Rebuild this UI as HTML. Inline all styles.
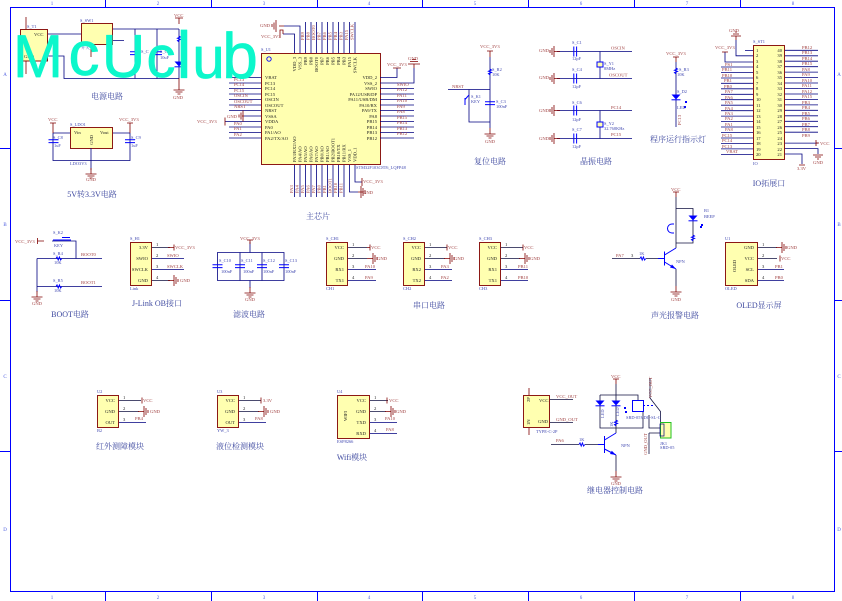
<!DOCTYPE html>
<html><head><meta charset="utf-8"><style>
html,body{margin:0;padding:0;background:#fff;width:842px;height:601px;overflow:hidden}
svg{display:block}
text{font-family:"Liberation Serif","Noto Serif CJK SC",serif}
.z{font-size:5px;fill:#5060e0;text-anchor:middle}
.t{font-size:8px;fill:#3f4aa0;text-anchor:middle}
.l{font-size:4.6px;fill:#a04040}
.p{font-size:4.6px;fill:#222}
.n{font-size:4.4px;fill:#4048b0}
.w{fill:none;stroke:#000080;stroke-width:.8}
.k{fill:none;stroke:#101040;stroke-width:.8}
.m{fill:none;stroke:#800000;stroke-width:.8}
.b{fill:none;stroke:#0000ff;stroke-width:1}
.x{fill:#ffffb0;stroke:#800000;stroke-width:.9}
.wm{font-family:"Liberation Sans",sans-serif;fill:#0cf7cb;stroke:#0cf7cb;stroke-width:.7;stroke-linejoin:round;text-anchor:middle}
</style></head><body>
<svg width="842" height="601" viewBox="0 0 842 601" xmlns="http://www.w3.org/2000/svg">
<defs>
<g id="gd"><path class="m" d="M0 0v6M-5.5 6h11M-3.5 8h7M-1.5 10h3"/></g>
<g id="gu"><path class="m" d="M0 0v-6M-5.5 -6h11M-3.5 -8h7M-1.5 -10h3"/></g>
<g id="gr"><path class="m" d="M0 0h6M6 -5.5v11M8 -3.5v7M10 -1.5v3"/></g>
<g id="gl"><path class="m" d="M0 0h-6M-6 -5.5v11M-8 -3.5v7M-10 -1.5v3"/></g>
<g id="cv"><path class="b" d="M-5 -1.2h10M-5 1.6h10"/></g>
<g id="ch"><path class="b" d="M-1.2 -5v10M1.6 -5v10"/></g>
<g id="rv"><path class="b" d="M0 -3l1.5 1-3 1.2 3 1.2-3 1.2 1.5 1.2"/></g>
<g id="rh"><path class="b" d="M-3 0l1-1.5 1.2 3 1.2-3 1.2 3 1.2-1.5"/></g>
<g id="led"><path d="M-4.5 -2.5h9l-4.5 5z" fill="#0000ff"/><path class="b" d="M-4.5 2.8h9"/></g>
</defs>

<!-- frame -->
<path class="b" d="M10.5 7.5H834.5V591.5H10.5ZM105.5 0v7M211.5 0v7M317.5 0v7M422.5 0v7M528.5 0v7M634.5 0v7M740.5 0v7M105.5 592v9M211.5 592v9M317.5 592v9M422.5 592v9M528.5 592v9M634.5 592v9M740.5 592v9M0 148.5h10M0 300.5h10M0 451.5h10M835 148.5h7M835 300.5h7M835 451.5h7"/>
<text class="z" x="52" y="5">1</text><text class="z" x="158" y="5">2</text><text class="z" x="264" y="5">3</text><text class="z" x="369" y="5">4</text><text class="z" x="475" y="5">5</text><text class="z" x="581" y="5">6</text><text class="z" x="687" y="5">7</text><text class="z" x="793" y="5">8</text>
<text class="z" x="52" y="599">1</text><text class="z" x="158" y="599">2</text><text class="z" x="264" y="599">3</text><text class="z" x="369" y="599">4</text><text class="z" x="475" y="599">5</text><text class="z" x="581" y="599">6</text><text class="z" x="687" y="599">7</text><text class="z" x="793" y="599">8</text>
<text class="z" x="5" y="76">A</text><text class="z" x="5" y="226">B</text><text class="z" x="5" y="378">C</text><text class="z" x="5" y="531">D</text>
<text class="z" x="839" y="76">A</text><text class="z" x="839" y="226">B</text><text class="z" x="839" y="378">C</text><text class="z" x="839" y="531">D</text>

<!-- power -->
<rect class="x" x="20.5" y="29.5" width="27" height="31.5"/>
<rect class="x" x="81.5" y="23.5" width="31" height="21"/>
<path class="w" d="M48 34H81M113 29H179M113 40.5H124M48 56H64V78.5H179M135 29V78.5M157 29V78.5M179 29V78.5"/>
<path class="m" d="M179 18v6M175 18h8M26 17v12M26 61v13M91 44v13M179 78v6"/>
<use href="#gd" x="179" y="84"/>
<use href="#cv" x="135" y="53"/><use href="#cv" x="157" y="53"/><use href="#rv" x="179" y="39"/><use href="#led" x="179" y="64"/>
<text class="l" x="174" y="17">VCC</text><text class="l" x="173" y="99">GND</text>
<text class="n" x="27" y="28">S_T1</text><text class="p" x="34" y="36">VCC</text><text class="p" x="24" y="58">GND</text><text class="n" x="80" y="22">S_SW1</text><text class="n" x="81" y="49">开关</text>
<text class="n" x="181" y="38">R1</text><text class="n" x="141" y="53">S_C</text><text class="n" x="160" y="53">S_C1</text><text class="n" x="160" y="59">10uF</text>
<text class="t" x="107" y="99">电源电路</text>

<!-- LDO -->
<rect class="x" x="70.5" y="127.5" width="42" height="21"/>
<path class="w" d="M53 133H70M113 133H130M53 133V160.5H130V133M91 148V170"/>
<path class="m" d="M53 123v10M50 123h6M130 123v10M127 123h6"/>
<use href="#gd" x="91" y="168"/>
<use href="#cv" x="53.5" y="141"/><use href="#cv" x="130" y="141"/>
<text class="l" x="48" y="121">VCC</text><text class="l" x="119" y="121">VCC_3V3</text><text class="l" x="86" y="181">GND</text>
<text class="n" x="70" y="126">S_LDO1</text><text class="p" x="74" y="134">Vin</text><text class="p" x="100" y="134">Vout</text><text class="p" transform="translate(93,145) rotate(-90)">GND</text>
<text class="n" x="70" y="165">LDO3V3</text><text class="n" x="53" y="139">S_C8</text><text class="n" x="131" y="139">S_C9</text><text class="n" x="54" y="147">1uF</text><text class="n" x="131" y="147">1uF</text>
<text class="t" x="92" y="197">5V转3.3V电路</text>

<!-- MCU -->
<rect class="x" x="261.5" y="53.5" width="119" height="111"/>
<circle cx="269" cy="59" r="2.2" fill="none" stroke="#0000ff" stroke-width=".9"/>
<path class="w" d="M229 77.5h32M229 83h32M229 88.5h32M229 94h32M229 99.5h32M229 105h32M229 110.5h32M244 116h17M225 121.5h36M229 127h32M229 132.5h32M229 138h32"/>
<path class="w" d="M380 77.5H397V68M380 83H414V68M380 88.5h34M380 94h34M380 99.5h34M380 105h34M380 110.5h34M380 116h34M380 121.5h34M380 127h34M380 132.5h34M380 138h34"/>
<path class="w" d="M294.5 53V34H283M300 53V26H284M305.5 53V22M311 53V22M316.5 53V22M322 53V22M327.5 53V22M333 53V22M338.5 53V22M344 53V22M349.5 53V22M355 53V22"/>
<path class="w" d="M294.5 165V197M300 165V197M305.5 165V197M311 165V197M316.5 165V197M322 165V197M327.5 165V197M333 165V197M338.5 165V197M344 165V197M349.5 165V192H358M355 165V182H362"/>
<path class="m" d="M279 26h5M276 20v12M274 22.500v7M272 24v3M283 34v-4h-3V38M358 192h5M361 186v12M363 188v8M365 190v4M362 182v-4v8M225 121.500v-4v8M244 116h-2M243 110.500v11M241 112.500v7M239 114.500v3M397 68h-4h8M414 68v-4M408 64h12M410 61.500h8M412 59.500h4"/>
<text class="l" x="260" y="27">GND</text><text class="l" x="261" y="38">VCC_3V3</text><text class="l" x="387" y="66">VCC_3V3</text><text class="l" x="408" y="60">GND</text><text class="l" x="197" y="123">VCC_3V3</text><text class="l" x="227" y="118">GND</text><text class="l" x="363" y="183">VCC_3V3</text><text class="l" x="363" y="194">GND</text>
<text class="n" x="261" y="51">S_U1</text><text class="n" x="356" y="169">STM32F103C8T6_LQFP48</text>
<g class="l">
<text x="234" y="81">PC13</text><text x="234" y="86">PC14</text><text x="234" y="92">PC15</text><text x="234" y="97">OSCIN</text><text x="234" y="103">OSCOUT</text><text x="234" y="108">NRST</text><text x="234" y="125">PA0</text><text x="234" y="130">PA1</text><text x="234" y="136">PA2</text>
<text x="397" y="86">SWIO</text><text x="397" y="91">PA12</text><text x="397" y="97">PA11</text><text x="397" y="102">PA10</text><text x="397" y="108">PA9</text><text x="397" y="113">PA8</text><text x="397" y="119">PB15</text><text x="397" y="124">PB14</text><text x="397" y="130">PB13</text><text x="397" y="135">PB12</text>
</g>
<g class="p">
<text x="265" y="79">VBAT</text><text x="265" y="85">PC13</text><text x="265" y="90">PC14</text><text x="265" y="96">PC15</text><text x="265" y="101">OSCIN</text><text x="265" y="107">OSCOUT</text><text x="265" y="112">NRST</text><text x="265" y="118">VSSA</text><text x="265" y="123">VDDA</text><text x="265" y="129">PA0</text><text x="265" y="134">PA1/AO</text><text x="265" y="140">PA2/TX/AO</text>
<g text-anchor="end"><text x="377" y="79">VDD_2</text><text x="377" y="85">VSS_2</text><text x="377" y="90">SWIO</text><text x="377" y="96">PA12/USB/DP</text><text x="377" y="101">PA11/USB/DM</text><text x="377" y="107">PA10/RX</text><text x="377" y="112">PA9/TX</text><text x="377" y="118">PA8</text><text x="377" y="123">PB15</text><text x="377" y="129">PB14</text><text x="377" y="134">PB13</text><text x="377" y="140">PB12</text></g>
<g text-anchor="end">
<text transform="translate(296,57) rotate(-90)">VDD_3</text><text transform="translate(301.500,57) rotate(-90)">VSS_3</text><text transform="translate(307,57) rotate(-90)">PB9</text><text transform="translate(312.500,57) rotate(-90)">PB8</text><text transform="translate(318,57) rotate(-90)">BOOT0</text><text transform="translate(323.500,57) rotate(-90)">PB7</text><text transform="translate(329,57) rotate(-90)">PB6</text><text transform="translate(334.500,57) rotate(-90)">PB5</text><text transform="translate(340,57) rotate(-90)">PB4</text><text transform="translate(345.500,57) rotate(-90)">PB3</text><text transform="translate(351,57) rotate(-90)">PA15</text><text transform="translate(356.500,57) rotate(-90)">SWCLK</text>
</g>
<text transform="translate(296,162) rotate(-90)">PA3/RX2/AO</text><text transform="translate(301.500,162) rotate(-90)">PA4/AO</text><text transform="translate(307,162) rotate(-90)">PA5/AO</text><text transform="translate(312.500,162) rotate(-90)">PA6/AO</text><text transform="translate(318,162) rotate(-90)">PA7/AO</text><text transform="translate(323.500,162) rotate(-90)">PB0/AO</text><text transform="translate(329,162) rotate(-90)">PB1/AO</text><text transform="translate(334.500,162) rotate(-90)">PB2/BOOT1</text><text transform="translate(340,162) rotate(-90)">PB10/TX</text><text transform="translate(345.500,162) rotate(-90)">PB11/RX</text><text transform="translate(351,162) rotate(-90)">VSS_1</text><text transform="translate(356.500,162) rotate(-90)">VDD_1</text>
</g>
<g class="l">
<text transform="translate(304,40) rotate(-90)">PB9</text><text transform="translate(309.500,40) rotate(-90)">PB8</text><text transform="translate(315,40) rotate(-90)">BOOT0</text><text transform="translate(320.500,40) rotate(-90)">PB7</text><text transform="translate(326,40) rotate(-90)">PB6</text><text transform="translate(331.500,40) rotate(-90)">PB5</text><text transform="translate(337,40) rotate(-90)">PB4</text><text transform="translate(342.500,40) rotate(-90)">PB3</text><text transform="translate(348,40) rotate(-90)">PA15</text><text transform="translate(353.500,40) rotate(-90)">SWCLK</text>
<text transform="translate(293,193) rotate(-90)">PA3</text><text transform="translate(298.500,193) rotate(-90)">PA4</text><text transform="translate(304,193) rotate(-90)">PA5</text><text transform="translate(309.500,193) rotate(-90)">PA6</text><text transform="translate(315,193) rotate(-90)">PA7</text><text transform="translate(320.500,193) rotate(-90)">PB0</text><text transform="translate(326,193) rotate(-90)">PB1</text><text transform="translate(331.500,193) rotate(-90)">BOOT1</text><text transform="translate(337,193) rotate(-90)">PB10</text><text transform="translate(342.500,193) rotate(-90)">PB11</text>
</g>
<text class="t" x="318" y="219">主芯片</text>

<!-- reset -->
<path class="w" d="M448 89.500H490M490 57V128M469 89.500V122H490"/>
<path class="m" d="M490 51v6M487 51h6"/>
<use href="#gd" x="490" y="128"/><use href="#rv" x="490" y="72"/><use href="#cv" x="490" y="103"/>
<path class="b" d="M469 95l-4 4.500v5M465 98v7" stroke-width="1.500"/>
<text class="l" x="480" y="48">VCC_3V3</text><text class="l" x="485" y="143">GND</text><text class="l" x="452" y="88">NRST</text><text class="n" x="492" y="71">S_R2</text><text class="n" x="492" y="76">10K</text><text class="n" x="471" y="98">S_K1</text><text class="n" x="471" y="103">KEY</text><text class="n" x="496" y="103">S_C3</text><text class="n" x="496" y="108">100nF</text>
<text class="t" x="490" y="164">复位电路</text>

<!-- crystal -->
<path class="w" d="M557 51.500H632M557 78.500H632M557 110.500H632M557 138.500H632M600 51.500V78.500M600 110.500V138.500"/>
<use href="#gl" x="560" y="51.500"/><use href="#gl" x="560" y="78.500"/><use href="#gl" x="560" y="110.500"/><use href="#gl" x="560" y="138.500"/>
<use href="#ch" x="575" y="51.500"/><use href="#ch" x="575" y="78.500"/><use href="#ch" x="575" y="110.500"/><use href="#ch" x="575" y="138.500"/>
<rect x="597" y="62" width="6" height="5" fill="#ffffb0" stroke="#0000ff"/><rect x="597" y="122" width="6" height="5" fill="#ffffb0" stroke="#0000ff"/>
<text class="l" x="539" y="52">GND</text><text class="l" x="539" y="79">GND</text><text class="l" x="539" y="112">GND</text><text class="l" x="539" y="140">GND</text>
<text class="l" x="611" y="49.500">OSCIN</text><text class="l" x="609" y="76.500">OSCOUT</text><text class="l" x="611" y="109">PC14</text><text class="l" x="611" y="136">PC15</text>
<text class="n" x="572" y="44">S_C1</text><text class="n" x="572" y="60">12pF</text><text class="n" x="572" y="71">S_C4</text><text class="n" x="572" y="88">12pF</text><text class="n" x="572" y="104">S_C6</text><text class="n" x="572" y="121">12pF</text><text class="n" x="572" y="131">S_C7</text><text class="n" x="572" y="148">12pF</text>
<text class="n" x="604" y="65">S_Y1</text><text class="n" x="604" y="70">8MHz</text><text class="n" x="604" y="125">S_Y2</text><text class="n" x="604" y="130">32.768KHz</text>
<text class="t" x="596" y="164">晶振电路</text>

<!-- run led -->
<path class="w" d="M676 62V127"/><path class="m" d="M676 57v5M673 57h6"/>
<use href="#rv" x="676" y="71"/><use href="#led" x="676" y="97"/>
<path d="M685 101h2v2h-2zM684 106h2v2h-2z" fill="#0000ff"/>
<text class="l" x="666" y="55">VCC_3V3</text><text class="n" x="679" y="71">S_R3</text><text class="n" x="677" y="76">10K</text><text class="n" x="677" y="93">S_D2</text><text class="n" x="677" y="109">LED</text><text class="l" transform="translate(681,125) rotate(-90)">PC13</text>
<text class="t" x="678" y="142">程序运行指示灯</text>

<!-- IO header -->
<rect class="x" x="753.500" y="45.500" width="31" height="114"/>
<path class="w" d="M745 50.500h8M736 40V55.800H753M725 52V62H753M721 67h32M721 72.500h32M721 78h32M721 83.300h32M721 88.800h32M721 94.300h32M721 99.700h32M721 105.200h32M721 110.700h32M721 116.100h32M721 121.600h32M721 127h32M721 132.500h32M721 138h32M721 143.400h32M721 148.900h32M721 154.400h32"/>
<path class="w" d="M785 50.300h33M785 55.800h33M785 61.200h33M785 66.700h33M785 72.100h33M785 77.600h33M785 83h33M785 88.500h33M785 94h33M785 99.400h33M785 104.900h33M785 110.300h33M785 115.800h33M785 121.300h33M785 126.700h33M785 132.200h33M785 143.100H818M785 148.600H818V154M785 154H802V164"/>
<path class="m" d="M736 40v-4M731 36h10M733 34h6M735 32h2M722 52h6M802 165h-3h6M819 143h-3v-3v6M813 155h10M815 157h6M817 159h2"/>
<text class="l" x="729" y="32">GND</text><text class="l" x="715" y="49">VCC_3V3</text><text class="n" x="753" y="43">S_ST1</text><text class="n" x="753" y="165">IO</text>
<text class="l" x="820" y="145">VCC</text><text class="l" x="813" y="164">GND</text><text class="l" x="797" y="170">3.3V</text>
<g class="p">
<text x="756" y="52">1</text><text x="756" y="57">2</text><text x="756" y="63">3</text><text x="756" y="68">4</text><text x="756" y="74">5</text><text x="756" y="79">6</text><text x="756" y="85">7</text><text x="756" y="90">8</text><text x="756" y="96">9</text><text x="756" y="101">10</text><text x="756" y="107">11</text><text x="756" y="112">12</text><text x="756" y="118">13</text><text x="756" y="123">14</text><text x="756" y="129">15</text><text x="756" y="134">16</text><text x="756" y="140">17</text><text x="756" y="145">18</text><text x="756" y="151">19</text><text x="756" y="156">20</text>
<g text-anchor="end"><text x="782" y="52">40</text><text x="782" y="57">39</text><text x="782" y="63">38</text><text x="782" y="68">37</text><text x="782" y="74">36</text><text x="782" y="79">35</text><text x="782" y="85">34</text><text x="782" y="90">33</text><text x="782" y="96">32</text><text x="782" y="101">31</text><text x="782" y="107">30</text><text x="782" y="112">29</text><text x="782" y="118">28</text><text x="782" y="123">27</text><text x="782" y="129">26</text><text x="782" y="134">25</text><text x="782" y="140">24</text><text x="782" y="145">23</text><text x="782" y="151">22</text><text x="782" y="156">21</text></g>
</g>
<g class="l">
<text x="725" y="66">PS1</text><text x="722" y="71">PB11</text><text x="722" y="77">PB10</text><text x="724" y="82">PB1</text><text x="724" y="88">PB0</text><text x="725" y="93">PA7</text><text x="725" y="99">PA6</text><text x="725" y="104">PA5</text><text x="725" y="110">PA4</text><text x="725" y="115">PA3</text><text x="725" y="120">PA2</text><text x="725" y="126">PA1</text><text x="725" y="131">PA8</text><text x="722" y="137">PC15</text><text x="722" y="142">PC14</text><text x="722" y="148">PC13</text><text x="726" y="153">VBAT</text>
<text x="802" y="49">PB12</text><text x="802" y="54">PB13</text><text x="802" y="60">PB14</text><text x="802" y="65">PB15</text><text x="802" y="71">PA8</text><text x="802" y="76">PA9</text><text x="802" y="82">PA10</text><text x="802" y="87">PA11</text><text x="802" y="93">PA12</text><text x="802" y="98">PA15</text><text x="802" y="104">PB3</text><text x="802" y="109">PB4</text><text x="802" y="115">PB5</text><text x="802" y="120">PB6</text><text x="802" y="126">PB7</text><text x="802" y="131">PB8</text><text x="802" y="137">PB9</text>
</g>
<text class="t" x="769" y="186">IO拓展口</text>

<!-- boot -->
<path class="w" d="M52 241H71H76V258.500H37M37 258.500H102M37 258.500V286.500H102M37 286.500V292"/>
<path class="m" d="M37.500 241H44M37.500 238v6"/>
<path class="b" d="M53 240h18M62 237.500h8" stroke-width="1.600"/>
<use href="#rh" x="59" y="258.500"/><use href="#rh" x="59" y="286.500"/><use href="#gd" x="37" y="291"/>
<text class="l" x="15" y="243">VCC_3V3</text><text class="l" x="32" y="305">GND</text><text class="n" x="53" y="234">S_K2</text><text class="n" x="54" y="247">KEY</text><text class="n" x="53" y="255">S_R4</text><text class="n" x="54" y="264">10K</text><text class="n" x="53" y="282">S_R5</text><text class="n" x="54" y="292">10K</text><text class="l" x="81" y="256">BOOT0</text><text class="l" x="81" y="284">BOOT1</text>
<text class="t" x="70" y="317">BOOT电路</text>

<!-- jlink -->
<rect class="x" x="130.500" y="242.500" width="21" height="43"/>
<path class="w" d="M152 258.500H184M152 269.500H184"/><path class="k" d="M152 247.500H170M152 280.500H170"/>
<path class="m" d="M168 247.500h6M174 244.500v6"/><use href="#gr" x="168" y="280.500"/>
<text class="n" x="130" y="240">S_H1</text><text class="n" x="130" y="290">Link</text>
<g class="p" text-anchor="end"><text x="148" y="249">3.3V</text><text x="148" y="260">SWIO</text><text x="148" y="271">SWCLK</text><text x="148" y="282">GND</text></g>
<text class="p" x="156" y="246">1</text><text class="p" x="156" y="257">2</text><text class="p" x="156" y="268">3</text><text class="p" x="156" y="279">4</text>
<text class="l" x="175" y="249">VCC_3V3</text><text class="l" x="167" y="257">SWIO</text><text class="l" x="167" y="268">SWCLK</text><text class="l" x="180" y="282">GND</text>
<text class="t" x="157" y="306">J-Link OB接口</text>

<!-- filter -->
<path class="w" d="M217.500 252.500H284V280.500H217.500ZM240 252.500V280.500M262 252.500V280.500M250 242V252.500M250 280.500V288"/>
<path class="m" d="M250 240v4M247 240h6"/>
<use href="#gd" x="250" y="287"/>
<use href="#cv" x="217.500" y="266"/><use href="#cv" x="240" y="266"/><use href="#cv" x="262" y="266"/><use href="#cv" x="284" y="266"/>
<text class="l" x="240" y="240">VCC_3V3</text><text class="l" x="245" y="301">GND</text>
<text class="n" x="219" y="262">S_C10</text><text class="n" x="241" y="262">S_C11</text><text class="n" x="263" y="262">S_C12</text><text class="n" x="285" y="262">S_C13</text>
<text class="n" x="221" y="273">100nF</text><text class="n" x="243" y="273">100nF</text><text class="n" x="263" y="273">100nF</text><text class="n" x="285" y="273">100nF</text>
<text class="t" x="249" y="317">滤波电路</text>

<!-- CH1 -->
<rect class="x" x="326.500" y="242.500" width="21" height="43"/>
<path class="k" d="M348 247.500H367M348 258.500H367"/><path class="w" d="M348 269.500H376M348 280.500H376"/>
<path class="m" d="M367 247.500h3M370 244.500v6"/><use href="#gr" x="367" y="258.500"/>
<text class="n" x="326" y="240">S_CH1</text><text class="n" x="326" y="290">CH1</text>
<g class="p" text-anchor="end"><text x="344" y="249">VCC</text><text x="344" y="260">GND</text><text x="344" y="271">RX1</text><text x="344" y="282">TX1</text></g>
<text class="p" x="352" y="246">1</text><text class="p" x="352" y="257">2</text><text class="p" x="352" y="268">3</text><text class="p" x="352" y="279">4</text>
<text class="l" x="371" y="249">VCC</text><text class="l" x="377" y="260">GND</text><text class="l" x="365" y="268">PA10</text><text class="l" x="365" y="279">PA9</text>
<!-- CH2 -->
<rect class="x" x="403.500" y="242.500" width="21" height="43"/>
<path class="k" d="M425 247.500H447M425 258.500H445"/><path class="w" d="M425 269.500H452M425 280.500H452"/>
<path class="m" d="M447 244.500v6"/><use href="#gr" x="444" y="258.500"/>
<text class="n" x="403" y="240">S_CH2</text><text class="n" x="403" y="290">CH2</text>
<g class="p" text-anchor="end"><text x="421" y="249">VCC</text><text x="421" y="260">GND</text><text x="421" y="271">RX2</text><text x="421" y="282">TX2</text></g>
<text class="p" x="429" y="246">1</text><text class="p" x="429" y="257">2</text><text class="p" x="429" y="268">3</text><text class="p" x="429" y="279">4</text>
<text class="l" x="448" y="249">VCC</text><text class="l" x="454" y="260">GND</text><text class="l" x="441" y="268">PA3</text><text class="l" x="441" y="279">PA2</text>
<!-- CH3 -->
<rect class="x" x="479.500" y="242.500" width="21" height="43"/>
<path class="k" d="M501 247.500H523M501 258.500H520"/><path class="w" d="M501 269.500H528M501 280.500H528"/>
<path class="m" d="M523 244.500v6"/><use href="#gr" x="519" y="258.500"/>
<text class="n" x="479" y="240">S_CH3</text><text class="n" x="479" y="290">CH3</text>
<g class="p" text-anchor="end"><text x="497" y="249">VCC</text><text x="497" y="260">GND</text><text x="497" y="271">RX1</text><text x="497" y="282">TX1</text></g>
<text class="p" x="505" y="246">1</text><text class="p" x="505" y="257">2</text><text class="p" x="505" y="268">3</text><text class="p" x="505" y="279">4</text>
<text class="l" x="524" y="249">VCC</text><text class="l" x="530" y="260">GND</text><text class="l" x="518" y="268">PB11</text><text class="l" x="518" y="279">PB10</text>
<text class="t" x="429" y="308">串口电路</text>

<!-- alarm -->
<path class="k" d="M676 197V248M676 208.500H693V243H676M676 269V286M612 258.500H640M646 258.500H658"/>
<path class="m" d="M676 192v5M673 192h6"/><use href="#gd" x="676" y="286"/>
<path class="b" d="M674 224h-2a4.500 4.500 0 0 0 0 9h2"/>
<use href="#led" x="693" y="218"/><use href="#rv" x="693" y="238"/><use href="#rh" x="643" y="258.500"/>
<path d="M701 224h2v2h-2zM700 226h2v2h-2z" fill="#0000ff"/>
<path class="b" stroke-width="1.400" d="M664.500 251.500v14M664.500 258.500H658"/><path class="b" d="M664.500 255l11.500 -7M664.500 262l11.500 7"/><path d="M676 269l-6 -1.500 2 -3z" fill="#0000ff"/>
<text class="l" x="671" y="191">VCC</text><text class="l" x="671" y="301">GND</text><text class="l" x="616" y="257">PA7</text><text class="p" x="631" y="257">3</text><text class="n" x="639" y="255">1K</text><text class="n" x="676" y="263">NPN</text><text class="n" x="704" y="212">B1</text><text class="n" x="704" y="218">BEEP</text>
<text class="t" x="675" y="318">声光报警电路</text>

<!-- OLED -->
<rect class="x" x="725.500" y="242.500" width="32" height="43"/>
<path class="k" d="M758 247.500H777M758 258.500H777"/><path class="w" d="M758 269.500H784M758 280.500H784"/>
<use href="#gr" x="776" y="247.500"/><path class="m" d="M780 255.500v6"/>
<text class="n" x="725" y="240">U1</text><text class="n" x="725" y="290">OLED</text><text class="p" transform="translate(736,272) rotate(-90)">OLED</text>
<g class="p" text-anchor="end"><text x="754" y="249">GND</text><text x="754" y="260">VCC</text><text x="754" y="271">SCL</text><text x="754" y="282">SDA</text></g>
<text class="p" x="762" y="246">1</text><text class="p" x="762" y="257">2</text><text class="p" x="762" y="268">3</text><text class="p" x="762" y="279">4</text>
<text class="l" x="787" y="249">GND</text><text class="l" x="781" y="260">VCC</text><text class="l" x="775" y="268">PB1</text><text class="l" x="775" y="279">PB0</text>
<text class="t" x="759" y="308">OLED显示屏</text>

<!-- U2 -->
<rect class="x" x="97.500" y="395.500" width="21" height="32"/>
<path class="k" d="M119 400.500H141M119 411.500H139"/><path class="w" d="M119 422.500H146"/><path class="m" d="M142 397.500v6"/><use href="#gr" x="138" y="411.500"/>
<text class="n" x="97" y="393">U2</text><text class="n" x="97" y="432">B2</text>
<g class="p" text-anchor="end"><text x="115" y="402">VCC</text><text x="115" y="413">GND</text><text x="115" y="424">OUT</text></g>
<text class="p" x="123" y="399">1</text><text class="p" x="123" y="410">2</text><text class="p" x="123" y="421">3</text>
<text class="l" x="143" y="402">VCC</text><text class="l" x="150" y="413">GND</text><text class="l" x="135" y="420">PB4</text>
<text class="t" x="120" y="449">红外测障模块</text>
<!-- U3 -->
<rect class="x" x="217.500" y="395.500" width="21" height="32"/>
<path class="k" d="M239 400.500H261M239 411.500H259"/><path class="w" d="M239 422.500H266"/><path class="m" d="M261 397.500v6"/><use href="#gr" x="258" y="411.500"/>
<text class="n" x="217" y="393">U3</text><text class="n" x="217" y="432">YW_3</text>
<g class="p" text-anchor="end"><text x="235" y="402">VCC</text><text x="235" y="413">GND</text><text x="235" y="424">OUT</text></g>
<text class="p" x="243" y="399">1</text><text class="p" x="243" y="410">2</text><text class="p" x="243" y="421">3</text>
<text class="l" x="263" y="402">3.3V</text><text class="l" x="270" y="413">GND</text><text class="l" x="255" y="420">PA8</text>
<text class="t" x="240" y="449">液位检测模块</text>
<!-- U4 -->
<rect class="x" x="337.500" y="395.500" width="32" height="43"/>
<path class="k" d="M370 400.500H388M370 411.500H386"/><path class="w" d="M370 422.500H397M370 433.500H397"/><path class="m" d="M387 397.500v6"/><use href="#gr" x="385" y="411.500"/>
<text class="n" x="337" y="393">U4</text><text class="n" x="337" y="443">ESP8266</text><text class="p" transform="translate(347,421) rotate(-90)">WIFI</text>
<g class="p" text-anchor="end"><text x="366" y="402">VCC</text><text x="366" y="413">GND</text><text x="366" y="424">TXD</text><text x="366" y="435">RXD</text></g>
<text class="p" x="374" y="399">1</text><text class="p" x="374" y="410">2</text><text class="p" x="374" y="421">3</text><text class="p" x="374" y="432">4</text>
<text class="l" x="389" y="402">VCC</text><text class="l" x="396" y="413">GND</text><text class="l" x="385" y="420">PA10</text><text class="l" x="386" y="431">PA8</text>
<text class="t" x="352" y="460">Wifi模块</text>

<!-- type-c -->
<rect class="x" x="523.500" y="395.500" width="26" height="32"/>
<path class="k" d="M550 399.500H573M550 422.500H573"/><path class="m" d="M529 388v7M529 428v7"/>
<text class="p" x="539" y="402">VCC</text><text class="p" x="538" y="423">GND</text><text class="l" x="556" y="398">VCC_OUT</text><text class="l" x="556" y="421">GND_OUT</text><text class="n" x="536" y="433">TYPE-C-2P</text>
<text class="p" transform="translate(530,402) rotate(-90)">2P</text><text class="p" transform="translate(530,425) rotate(-90)">1N</text>
<!-- relay -->
<path class="k" d="M616 384V428M600 395H638V400M600 395V428H643V411M616 433V428M616 455V471M551 444.500H579M585 444.500H598M650 378V398L660.500 411.500V422M649 415V428H660M649 433V454M649 433H660"/>
<path class="m" d="M616 379v5M613 379h6"/><use href="#gd" x="616" y="471"/>
<use href="#led" x="600" y="403"/><use href="#led" x="616" y="403"/><use href="#rv" x="616" y="423"/><use href="#rh" x="582" y="444.500"/>
<path d="M624 407h2v2h-2zM625 411h2v2h-2z" fill="#0000ff"/>
<rect x="632.500" y="400.500" width="11" height="11" fill="none" stroke="#0000ff"/>
<path class="b" stroke-dasharray="2 2" d="M643 405.500H654"/>
<path class="b" stroke-width="1.400" d="M604.500 436v17M604.500 444.500H598"/><path class="b" d="M604.500 440l11.500 -7M604.500 449l11.500 6"/><path d="M616 455l-6 -1 1.800 -3.200z" fill="#0000ff"/>
<rect x="660.500" y="422.500" width="10.500" height="15.500" fill="#ffffb0" stroke="#20c020"/>
<rect x="660" y="424" width="4" height="12" fill="none" stroke="#000080" stroke-width=".7"/>
<text class="l" x="611" y="378">VCC</text><text class="l" x="611" y="485">GND</text><text class="l" x="556" y="442">PA6</text><text class="n" x="579" y="441">1K</text><text class="n" x="621" y="447">NPN</text><text class="n" x="660" y="445">JK1</text><text class="n" x="660" y="449">SRD-05</text><text class="n" x="626" y="419">SRD-05VDC-SL-C</text>
<text class="l" transform="translate(652,398) rotate(-90)">VCC_OUT</text><text class="l" transform="translate(647,455) rotate(-90)">GND_OUT</text>
<text class="n" transform="translate(604,418) rotate(-90)">LED</text><text class="n" transform="translate(619,416) rotate(-90)">LED</text><text class="n" transform="translate(613,427) rotate(-90)">1K</text>
<text class="t" x="615" y="493">继电器控制电路</text>

<!-- watermark -->
<text class="wm" x="38" y="77" font-size="60" style="font-family:'Liberation Sans',sans-serif">M</text>
<text class="wm" x="84" y="75" font-size="62" style="font-family:'Liberation Sans',sans-serif">c</text>
<text class="wm" x="123.500" y="77" font-size="60" style="font-family:'Liberation Sans',sans-serif">U</text>
<text class="wm" x="161" y="77" font-size="58" style="font-family:'Liberation Sans',sans-serif">c</text>
<text class="wm" x="184" y="78" font-size="66" style="font-family:'Liberation Sans',sans-serif">l</text>
<text class="wm" x="208.500" y="78" font-size="58" style="font-family:'Liberation Sans',sans-serif">u</text>
<text class="wm" x="240" y="78" font-size="64" style="font-family:'Liberation Sans',sans-serif">b</text>
</svg>
</body></html>
